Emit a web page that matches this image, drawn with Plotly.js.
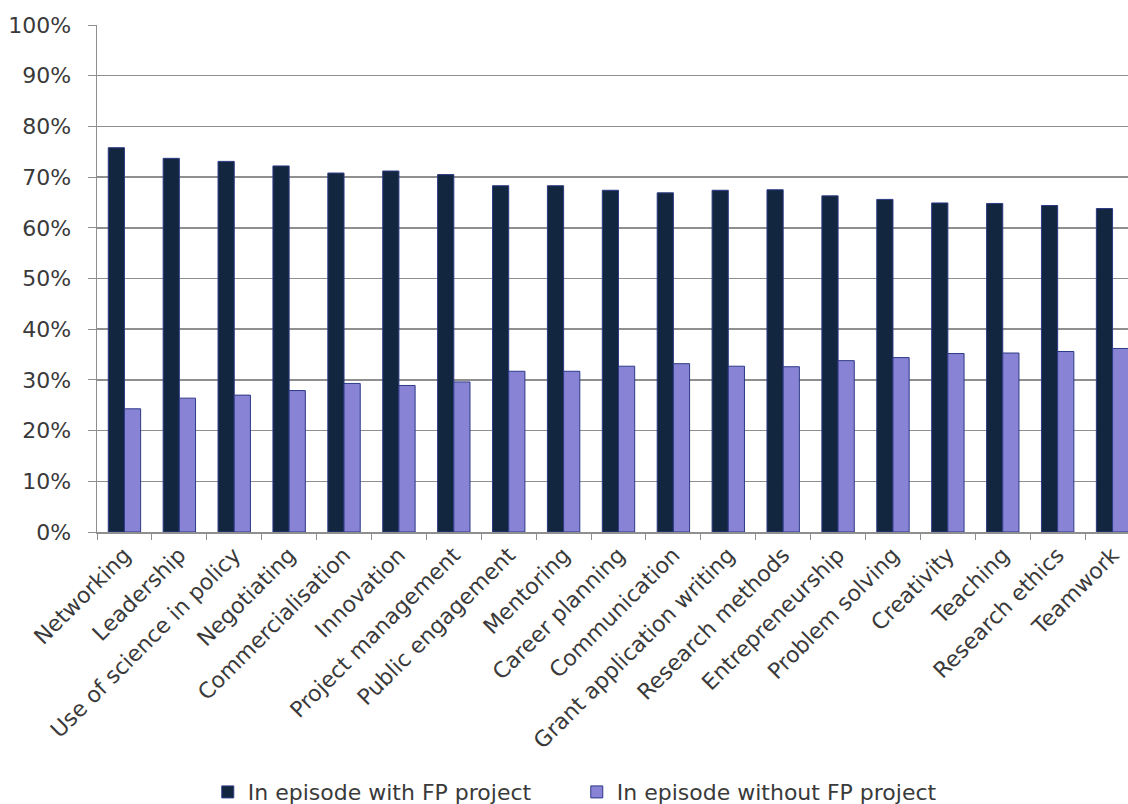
<!DOCTYPE html>
<html>
<head>
<meta charset="utf-8">
<script src="https://cdn.plot.ly/plotly-3.0.1.min.js"></script>
<style>
html,body{margin:0;padding:0;overflow:hidden;background:#fff;}
#chart{width:1150px;height:830px;}
</style>
</head>
<body>
<div id="chart"></div>
<script>
const categories = ["Networking","Leadership","Use of science in policy","Negotiating","Commercialisation","Innovation","Project management","Public engagement","Mentoring","Career planning","Communication","Grant application writing","Research methods","Entrepreneurship","Problem solving","Creativity","Teaching","Research ethics","Teamwork"];
const withFP = [0.758,0.737,0.731,0.722,0.708,0.712,0.705,0.683,0.683,0.674,0.669,0.674,0.675,0.663,0.656,0.649,0.648,0.644,0.638];
const withoutFP = [0.243,0.264,0.270,0.279,0.293,0.289,0.296,0.317,0.317,0.327,0.332,0.327,0.326,0.338,0.344,0.352,0.353,0.356,0.362];
const seriesNames = ["In episode with FP project","In episode without FP project"];

const font = {family: "DejaVu Sans, Verdana, sans-serif", size: 22, color: "#3a3a3a"};

const traces = [
  {type:"bar", name: seriesNames[0], x: categories, y: withFP,
   marker:{color:"#13263f", line:{color:"#2d3a86", width:1}}},
  {type:"bar", name: seriesNames[1], x: categories, y: withoutFP,
   marker:{color:"#8883d4", line:{color:"#2d3a86", width:1}}}
];

const layout = {
  width: 1150, height: 830,
  margin: {l: 97, r: 10, t: 25, b: 298},
  paper_bgcolor: "#fff", plot_bgcolor: "#fff",
  font: font,
  barmode: "group", bargap: 0.41, bargroupgap: 0,
  showlegend: true,
  legend: {orientation: "h", x: 0.460, xanchor: "center", y: -0.513, yanchor: "middle",
           font: font, itemwidth: 30, entrywidth: 324, traceorder: "normal"},
  xaxis: {type: "category", tickangle: -45, ticks: "outside", tickson: "boundaries",
          ticklen: 6, tickcolor: "#8f8f8f", showline: true, linecolor: "#8f8f8f", linewidth: 1.5,
          showgrid: false, tickfont: font, automargin: false},
  yaxis: {range: [0, 1], dtick: 0.1, tickformat: ".0%", ticks: "outside", ticklen: 8,
          tickcolor: "#8f8f8f", showline: true, linecolor: "#8f8f8f", linewidth: 1.5,
          showgrid: true, gridcolor: "#8f8f8f", gridwidth: 1.5, zeroline: false,
          ticklabelstandoff: 12, tickfont: font, automargin: false}
};

Plotly.newPlot("chart", traces, layout, {displayModeBar: false, staticPlot: true});
</script>
</body>
</html>
